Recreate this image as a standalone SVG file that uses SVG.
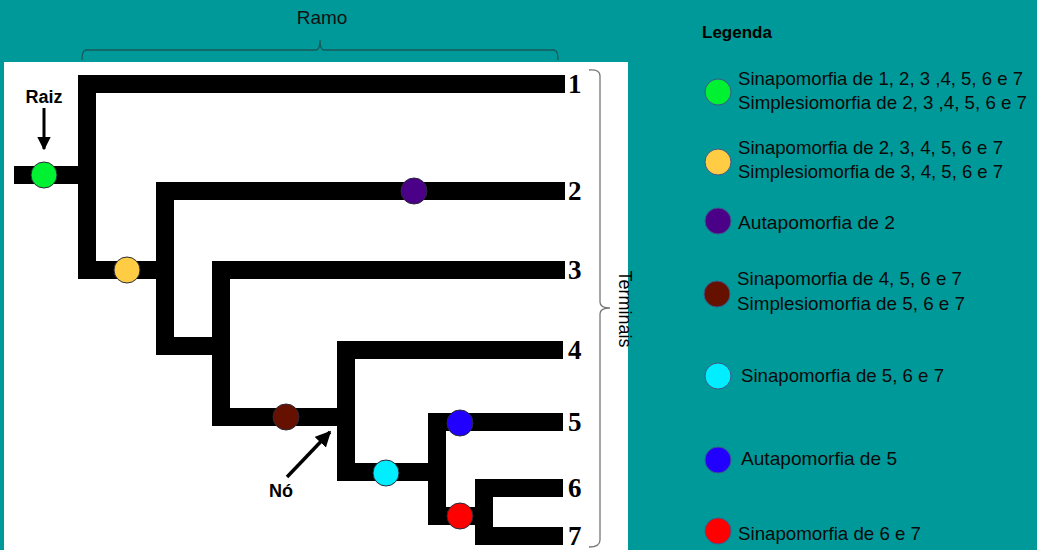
<svg xmlns="http://www.w3.org/2000/svg" width="1037" height="550" viewBox="0 0 1037 550">
<defs>
<style>
.br{fill:none;stroke:#000;stroke-width:18;stroke-linejoin:miter;stroke-linecap:butt}
.num{font-family:"Liberation Serif",serif;font-weight:bold;font-size:27px;fill:#000}
.lg{font-family:"Liberation Sans",Arial,sans-serif;font-size:19px;fill:#0a0a0a}
.lab{font-family:"Liberation Sans",Arial,sans-serif;font-weight:bold;font-size:18px;fill:#000}
.dot{stroke:#2a2a3a;stroke-width:1}
.ldot{stroke:#3a5a8a;stroke-width:1}
.brace{fill:none;stroke:#1a5a5a;stroke-width:1.3}
.brace2{fill:none;stroke:#777;stroke-width:1.3}
</style>
<marker id="ah" viewBox="0 0 10 10" refX="9" refY="5" markerWidth="4.5" markerHeight="4.5" orient="auto" markerUnits="strokeWidth">
<path d="M0,0 L10,5 L0,10 z" fill="#000"/>
</marker>
</defs>
<rect width="1037" height="550" fill="#009999"/>
<rect x="4" y="62" width="624" height="488" fill="#ffffff"/>

<g id="ramo">
<path class="brace" d="M82,60 Q82,50 86,50 H316 Q320,50 320,40 Q320,50 324,50 H554 Q558,50 558,60"/>
<text x="322" y="24" text-anchor="middle" font-family="Liberation Sans, Arial, sans-serif" font-size="19" fill="#111">Ramo</text>
</g>

<g id="terminais">
<path class="brace2" d="M589,70 Q600,69 600,76 V302 Q600,308 610,308 Q600,308 600,314 V540 Q600,547 589,547"/>
<text transform="translate(619,309) rotate(90)" text-anchor="middle" font-family="Liberation Sans, Arial, sans-serif" font-size="18" fill="#000">Terminais</text>
</g>

<g id="connectors">
<path class="br" d="M14,175 H87"/>
<path class="br" d="M565,84 H87 V270 H165"/>
<path class="br" d="M565,191 H165 V346 H221"/>
<path class="br" d="M565,270 H221 V417 H346"/>
<path class="br" d="M563,350 H346 V472 H437"/>
<path class="br" d="M563,422 H437 V516 H484"/>
<path class="br" d="M563,488 H484 V536 H563"/>
<line x1="44" y1="108" x2="44" y2="149" stroke="#000" stroke-width="3" marker-end="url(#ah)"/>
<line x1="287" y1="477" x2="330" y2="432" stroke="#000" stroke-width="3.5" marker-end="url(#ah)"/>
</g>

<g id="raiz"><text class="lab" x="44" y="103" text-anchor="middle">Raiz</text></g>
<g id="no"><text class="lab" x="281" y="497" text-anchor="middle">Nó</text></g>

<g id="node-green"><circle class="dot" cx="44" cy="175" r="13" fill="#00f032"/></g>
<g id="node-yellow"><circle class="dot" cx="127" cy="270" r="13" fill="#ffcc44"/></g>
<g id="node-purple"><circle class="dot" cx="414" cy="191" r="13" fill="#4b0088"/></g>
<g id="node-brown"><circle class="dot" cx="286" cy="417" r="13" fill="#661100"/></g>
<g id="node-cyan"><circle class="dot" cx="386" cy="473" r="13" fill="#00eeff"/></g>
<g id="node-blue"><circle class="dot" cx="460" cy="423" r="13" fill="#2200ff"/></g>
<g id="node-red"><circle class="dot" cx="460" cy="516" r="13" fill="#ff0000"/></g>

<g id="taxon-1"><text class="num" x="568" y="93">1</text></g>
<g id="taxon-2"><text class="num" x="568" y="200">2</text></g>
<g id="taxon-3"><text class="num" x="568" y="279">3</text></g>
<g id="taxon-4"><text class="num" x="568" y="359">4</text></g>
<g id="taxon-5"><text class="num" x="568" y="431">5</text></g>
<g id="taxon-6"><text class="num" x="568" y="497">6</text></g>
<g id="taxon-7"><text class="num" x="568" y="545">7</text></g>

<g id="legenda">
<text x="702" y="38" font-family="Liberation Sans, Arial, sans-serif" font-weight="bold" font-size="17" fill="#000">Legenda</text>
</g>
<g id="legend-green">
<circle class="ldot" cx="718" cy="92" r="13" fill="#00f032"/>
<text class="lg" x="738" y="85" textLength="285" lengthAdjust="spacingAndGlyphs">Sinapomorfia de 1, 2, 3 ,4, 5, 6 e 7</text>
<text class="lg" x="738" y="109" textLength="289" lengthAdjust="spacingAndGlyphs">Simplesiomorfia de 2, 3 ,4, 5, 6 e 7</text>
</g>
<g id="legend-yellow">
<circle class="ldot" cx="718" cy="162" r="13" fill="#ffcc44"/>
<text class="lg" x="738" y="154" textLength="265" lengthAdjust="spacingAndGlyphs">Sinapomorfia de 2, 3, 4, 5, 6 e 7</text>
<text class="lg" x="738" y="178" textLength="265" lengthAdjust="spacingAndGlyphs">Simplesiomorfia de 3, 4, 5, 6 e 7</text>
</g>
<g id="legend-purple">
<circle class="ldot" cx="718" cy="221" r="13" fill="#4b0088"/>
<text class="lg" x="738" y="229" textLength="157" lengthAdjust="spacingAndGlyphs">Autapomorfia de 2</text>
</g>
<g id="legend-brown">
<circle class="ldot" cx="717" cy="294" r="13" fill="#661100"/>
<text class="lg" x="737" y="285" textLength="225" lengthAdjust="spacingAndGlyphs">Sinapomorfia de 4, 5, 6 e 7</text>
<text class="lg" x="737" y="310" textLength="228" lengthAdjust="spacingAndGlyphs">Simplesiomorfia de 5, 6 e 7</text>
</g>
<g id="legend-cyan">
<circle class="ldot" cx="718" cy="376" r="13" fill="#00eeff"/>
<text class="lg" x="741" y="382" textLength="203" lengthAdjust="spacingAndGlyphs">Sinapomorfia de 5, 6 e 7</text>
</g>
<g id="legend-blue">
<circle class="ldot" cx="718" cy="460" r="13" fill="#2200ff"/>
<text class="lg" x="741" y="465" textLength="156" lengthAdjust="spacingAndGlyphs">Autapomorfia de 5</text>
</g>
<g id="legend-red">
<circle class="ldot" cx="718" cy="531" r="13" fill="#ff0000"/>
<text class="lg" x="738" y="540" textLength="183" lengthAdjust="spacingAndGlyphs">Sinapomorfia de 6 e 7</text>
</g>
</svg>
